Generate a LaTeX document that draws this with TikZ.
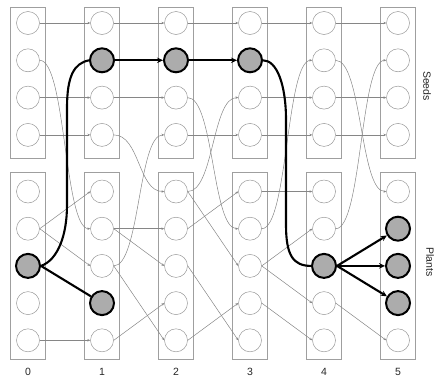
\documentclass[tikz,border=0pt]{standalone}
\usepackage{fontspec}
\setmainfont{Liberation Sans}
\usetikzlibrary{arrows.meta}
\begin{document}
\begin{tikzpicture}[x=1pt,y=-1pt,
  cell/.style={circle, draw=gray!80, line width=0.5pt, fill=white, minimum size=23pt, inner sep=0pt},
  hot/.style={circle, draw=black, line width=2pt, fill=gray!65, minimum size=24pt, inner sep=0pt},
  colbox/.style={draw=gray!75, line width=0.5pt},
  link/.style={draw=gray!95, line width=0.5pt, -{Stealth[length=2.8pt,width=2.4pt]}},
  hotline/.style={draw=black, line width=2.1pt},
  hotarrow/.style={hotline, -{Stealth[length=6pt,width=5.5pt]}},
  lab/.style={font=\fontsize{10.5}{12}\selectfont, text=black!85, inner sep=1pt}
]
\useasboundingbox (0,0) rectangle (435,378);

% column boxes
\foreach \c in {0,...,5} {
  \draw[colbox] (10.5+74*\c,7) rectangle (45.5+74*\c,158);
  \draw[colbox] (10.5+74*\c,172) rectangle (45.5+74*\c,359);
}

% seed cells
\foreach \c in {0,...,5} \foreach \r in {0,...,3} {
  \def\st{cell}
  \ifnum\c\r=11 \def\st{hot}\fi
  \ifnum\c\r=21 \def\st{hot}\fi
  \ifnum\c\r=31 \def\st{hot}\fi
  \node[\st] (s\c\r) at (28+74*\c, 23+37.3*\r) {};
}
% plant cells
\foreach \c in {0,...,5} \foreach \r in {0,...,4} {
  \def\st{cell}
  \ifnum\c\r=2 \def\st{hot}\fi
  \ifnum\c\r=13 \def\st{hot}\fi
  \ifnum\c\r=42 \def\st{hot}\fi
  \ifnum\c\r=51 \def\st{hot}\fi
  \ifnum\c\r=52 \def\st{hot}\fi
  \ifnum\c\r=53 \def\st{hot}\fi
  \node[\st] (p\c\r) at (28+74*\c, 191.5+37.2*\r) {};
}

% seed survival
\foreach \a/\b in {s00/s10, s02/s12, s03/s13, s10/s20, s12/s22, s20/s30, s23/s33,
                   s30/s40, s32/s42, s33/s43, s40/s50, s42/s52, s43/s53}
  \draw[link] (\a.east) -- (\b.west);

% plant to plant
\foreach \a/\b in {p01/p10, p01/p12, p04/p14, p11/p21, p11/p22, p12/p24, p14/p23,
                   p20/p32, p21/p30, p22/p34, p24/p33, p30/p40, p32/p41, p32/p43,
                   p33/p44, p43/p54}
  \draw[link] (\a.east) -- (\b.west);

% germination and seed production curves
\foreach \a/\b in {s01/p11, s13/p20, s22/p31, s41/p50, p12/s23, p20/s32, p31/s41, p41/s51}
  \draw[link] (\a.east) .. controls +(26,0) and +(-26,0) .. (\b.west);

% highlighted path
\draw[hotline] (p02.east) .. controls +(17,-6) and +(0,30) .. (67,205) -- (67,108)
  .. controls +(0,-32) and +(-15,3) .. (s11.west);
\draw[hotarrow] (s11) -- (s21);
\draw[hotarrow] (s21) -- (s31);
\draw[hotline] (s31.east) .. controls +(14,0) and +(0,-35) .. (286,120) -- (286,225)
  .. controls +(0,30) and +(-18,0) .. (p42.west);
\draw[hotline] (p02.east) -- (p13);
\draw[hotarrow] (p42.east) -- (p51);
\draw[hotarrow] (p42.east) -- (p52);
\draw[hotarrow] (p42.east) -- (p53);

% labels
\foreach \c in {0,...,5} \node[lab] (n\c) at (28+74*\c, 372) {\c};
\node[lab, rotate=-90] (seeds) at (427,86) {Seeds};
\node[lab, rotate=-90] (plants) at (430,262) {Plants};
\end{tikzpicture}
\end{document}
